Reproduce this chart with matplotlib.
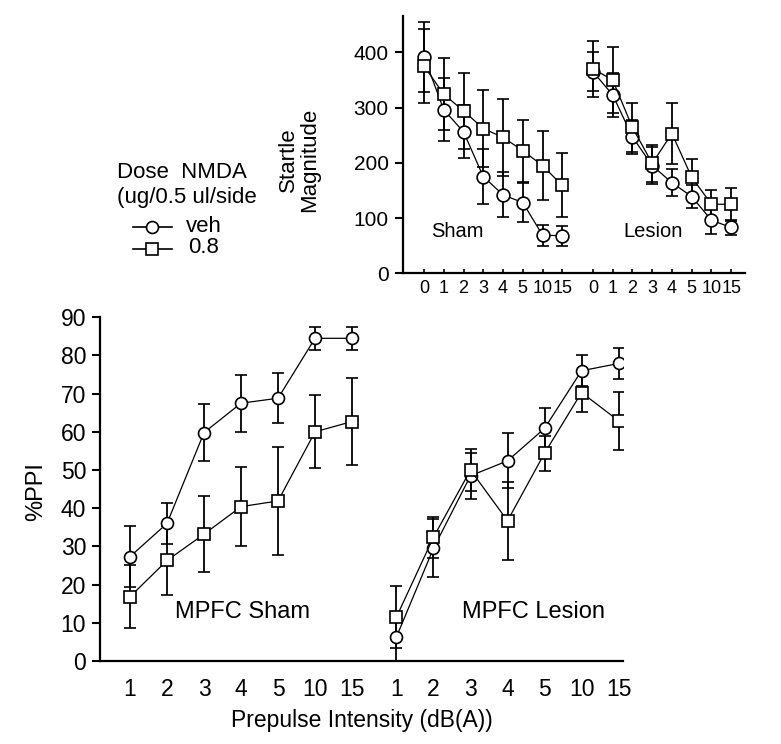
import numpy as np
import matplotlib
matplotlib.use('Agg')
import matplotlib.pyplot as plt
from matplotlib.lines import Line2D

plt.rcParams['font.family'] = ['Liberation Sans', 'DejaVu Sans']

# ---- data: %PPI (bottom panel)
ppi_labels = ['1', '2', '3', '4', '5', '10', '15']
ppi_sham_veh = [27.3, 36.0, 59.8, 67.5, 68.8, 84.5, 84.5]
ppi_sham_veh_err = [8.0, 5.3, 7.5, 7.5, 6.6, 3.0, 3.0]
ppi_sham_nmda = [16.8, 26.3, 33.2, 40.4, 41.9, 60.0, 62.7]
ppi_sham_nmda_err = [8.3, 9.0, 10.0, 10.4, 14.2, 9.6, 11.4]
ppi_les_veh = [6.3, 29.5, 48.5, 52.4, 60.9, 76.0, 77.9]
ppi_les_veh_err = [6.3, 7.6, 6.0, 7.2, 5.4, 4.0, 4.0]
ppi_les_nmda = [11.5, 32.4, 50.0, 36.7, 54.4, 70.3, 62.9]
ppi_les_nmda_err = [8.0, 5.4, 5.5, 10.2, 4.6, 5.0, 7.6]

# ---- data: startle magnitude (inset)
st_labels = ['0', '1', '2', '3', '4', '5', '10', '15']
st_sham_veh = [392, 296, 256, 175, 142, 128, 69, 68]
st_sham_veh_err = [63, 57, 48, 50, 41, 36, 19, 18]
st_sham_nmda = [375, 324, 294, 262, 246, 222, 195, 159]
st_sham_nmda_err = [67, 65, 69, 70, 70, 56, 62, 58]
st_les_veh = [365, 323, 247, 195, 164, 139, 96, 83]
st_les_veh_err = [35, 40, 31, 33, 24, 21, 24, 14]
st_les_nmda = [370, 350, 264, 199, 253, 174, 125, 125]
st_les_nmda_err = [50, 60, 44, 34, 55, 32, 26, 30]

W, H = 781, 744
fig = plt.figure(figsize=(W / 100, H / 100), dpi=100)


def fx(px):
    return px / W


def fy(py):
    return 1 - py / H


def draw(ax, x, y, e, marker, ms):
    ax.errorbar(x, y, yerr=e, fmt='-', marker=marker, ms=ms, mfc='white',
                mec='black', mew=1.2, color='black', lw=0.9, ecolor='black',
                elinewidth=1.3, capsize=4, capthick=1.3, zorder=3)


def clean(ax):
    ax.spines['top'].set_visible(False)
    ax.spines['right'].set_visible(False)
    ax.spines['left'].set_linewidth(1.6)
    ax.spines['bottom'].set_linewidth(1.6)


# ---- bottom panel
ax = fig.add_axes([fx(100), fy(660.9), fx(623) - fx(100), (660.9 - 317.3) / H])
x_sham = np.arange(7)
x_les = 7.2 + np.arange(7)
draw(ax, x_sham, ppi_sham_veh, ppi_sham_veh_err, 'o', 8.6)
draw(ax, x_sham, ppi_sham_nmda, ppi_sham_nmda_err, 's', 8.6)
draw(ax, x_les, ppi_les_veh, ppi_les_veh_err, 'o', 8.6)
draw(ax, x_les, ppi_les_nmda, ppi_les_nmda_err, 's', 8.6)
ax.set_xlim(-0.81, 13.32)
ax.set_ylim(0, 90)
ax.set_yticks(range(0, 91, 10))
ax.set_xticks(np.concatenate([x_sham, x_les]))
ax.set_xticklabels(ppi_labels * 2)
ax.tick_params(axis='x', length=0, pad=12, labelsize=16.5)
ax.tick_params(axis='y', length=6, width=1.5, pad=4, labelsize=16.5)
clean(ax)
ax.text(3.03, 12.9, 'MPFC Sham', ha='center', va='center', fontsize=17)
ax.text(10.9, 12.9, 'MPFC Lesion', ha='center', va='center', fontsize=17)
fig.text(fx(362), fy(720), 'Prepulse Intensity (dB(A))', ha='center', va='center', fontsize=16.5)
fig.text(fx(36), fy(492), '%PPI', rotation=90, ha='center', va='center', fontsize=17)

# ---- inset: startle magnitude
ax2 = fig.add_axes([fx(402.7), fy(273.3), (745 - 402.7) / W, 465 * 0.5525 / H])
xs2 = np.arange(8)
xl2 = 8.55 + np.arange(8)
draw(ax2, xs2, st_sham_veh, st_sham_veh_err, 'o', 9.2)
draw(ax2, xs2, st_sham_nmda, st_sham_nmda_err, 's', 9.2)
draw(ax2, xl2, st_les_veh, st_les_veh_err, 'o', 9.2)
draw(ax2, xl2, st_les_nmda, st_les_nmda_err, 's', 9.2)
ax2.set_xlim(-1.08, 16.25)
ax2.set_ylim(0, 465)
ax2.set_yticks(range(0, 401, 100))
ax2.set_xticks(np.concatenate([xs2, xl2]))
ax2.set_xticklabels(st_labels * 2)
ax2.tick_params(axis='x', direction='in', length=3, width=1.2, pad=5, labelsize=13)
ax2.tick_params(axis='y', length=6, width=1.5, pad=4, labelsize=15)
clean(ax2)
ax2.set_ylabel('Startle\nMagnitude', fontsize=16, linespacing=1.0)
ax2.yaxis.set_label_coords(-0.242, 0.441)
ax2.text(1.67, 75, 'Sham', ha='center', va='center', fontsize=14.5)
ax2.text(11.6, 75, 'Lesion', ha='center', va='center', fontsize=14.5)

# ---- legend (drawn by hand)
fig.text(fx(117), fy(173), 'Dose  NMDA', va='center', fontsize=16)
fig.text(fx(117), fy(198), '(ug/0.5 ul/side', va='center', fontsize=16)
for py, mk, lab, tx in [(227, 'o', 'veh', 186), (249, 's', '0.8', 188)]:
    fig.add_artist(Line2D([fx(133), fx(172)], [fy(py), fy(py)], color='black', lw=1.2))
    fig.add_artist(Line2D([fx(152)], [fy(py)], marker=mk, ms=8.6, mfc='white',
                          mec='black', mew=1.2, color='black'))
    fig.text(fx(tx), fy(py - 1), lab, va='center', fontsize=16)

fig.savefig('out.png', dpi=100)
